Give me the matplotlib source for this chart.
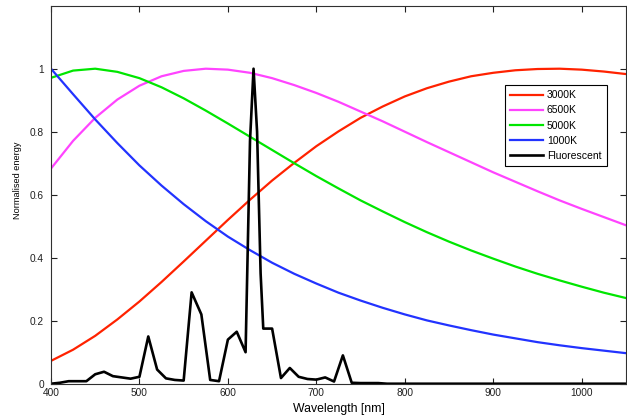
import matplotlib
matplotlib.use('agg')
import matplotlib.pyplot as plt

plt.rcParams['font.family'] = ['Liberation Sans', 'DejaVu Sans']

# wavelength grid for the smooth curves (nm), 25 nm steps
wl = [400, 425, 450, 475, 500, 525, 550, 575, 600, 625, 650, 675, 700, 725,
      750, 775, 800, 825, 850, 875, 900, 925, 950, 975, 1000, 1025, 1050]

# normalised energy
k3000 = [0.0725, 0.108, 0.152, 0.204, 0.261, 0.323, 0.388, 0.454, 0.520, 0.584, 0.645, 0.701,
         0.754, 0.801, 0.844, 0.880, 0.912, 0.938, 0.959, 0.976, 0.987, 0.995, 0.999, 1.000,
         0.997, 0.991, 0.983]
k6500 = [0.683, 0.771, 0.844, 0.902, 0.946, 0.976, 0.993, 1.000, 0.997, 0.987, 0.970, 0.948,
         0.923, 0.895, 0.864, 0.833, 0.800, 0.767, 0.735, 0.703, 0.671, 0.641, 0.611, 0.582,
         0.555, 0.529, 0.503]
k5000 = [0.971, 0.994, 1.000, 0.990, 0.970, 0.941, 0.906, 0.867, 0.826, 0.784, 0.742, 0.700,
         0.659, 0.620, 0.582, 0.547, 0.513, 0.481, 0.451, 0.423, 0.397, 0.372, 0.349, 0.328,
         0.308, 0.289, 0.272]
k1000 = [1.000, 0.919, 0.839, 0.764, 0.693, 0.629, 0.570, 0.516, 0.467, 0.424, 0.384, 0.349,
         0.318, 0.289, 0.264, 0.241, 0.220, 0.201, 0.185, 0.170, 0.156, 0.144, 0.132, 0.122,
         0.113, 0.105, 0.097]

# fluorescent lamp spectrum
fl_wl = [400, 410, 420, 430, 440, 450, 460, 470, 480, 490, 500, 510, 520, 530, 540, 550,
         559, 570, 580, 590, 600, 610, 620, 625, 629, 633, 637, 640, 650, 660, 670, 680,
         690, 700, 710, 720, 730, 740, 750, 760, 770, 780, 1050]
fl = [0.0, 0.003, 0.008, 0.008, 0.008, 0.030, 0.038, 0.024, 0.020, 0.016, 0.022, 0.150, 0.045,
      0.017, 0.012, 0.010, 0.290, 0.220, 0.012, 0.008, 0.140, 0.165, 0.100, 0.770, 1.000,
      0.800, 0.350, 0.175, 0.175, 0.018, 0.050, 0.022, 0.015, 0.013, 0.020, 0.007, 0.090,
      0.003, 0.002, 0.002, 0.002, 0.0, 0.0]

fig = plt.figure(figsize=(6.27, 4.19), dpi=100)
ax = fig.add_axes([0.0813, 0.0842, 0.917, 0.9022])

lw = 1.6
ax.plot(wl, k3000, color='#ff2200', lw=lw, label='3000K')
ax.plot(wl, k6500, color='#ff44ff', lw=lw, label='6500K')
ax.plot(wl, k5000, color='#00e600', lw=lw, label='5000K')
ax.plot(wl, k1000, color='#2233ff', lw=lw, label='1000K')
ax.plot(fl_wl, fl, color='black', lw=1.9, label='Fluorescent')

ax.set_xlim(400, 1050)
ax.set_ylim(0, 1.2)
ax.set_xticks([400, 500, 600, 700, 800, 900, 1000])
ax.set_yticks([0, 0.2, 0.4, 0.6, 0.8, 1])
ax.set_yticklabels(['0', '0.2', '0.4', '0.6', '0.8', '1'])
ax.tick_params(direction='in', length=4, width=0.8, top=True, right=True,
               labelsize=7.3, pad=3, colors='#202020')
ax.tick_params(axis='y', pad=5)
for s in ax.spines.values():
    s.set_linewidth(0.8)
    s.set_color('#303030')

ax.set_xlabel('Wavelength [nm]', fontsize=8.8, labelpad=4)
ax.set_ylabel('Normalised energy', fontsize=6.6)
ax.yaxis.set_label_coords(-0.0504, 0.539)

leg = ax.legend(loc='upper left', bbox_to_anchor=(0.79, 0.79), borderaxespad=0,
                fontsize=7.5, handlelength=3.1, handletextpad=0.4, labelspacing=0.5,
                fancybox=False, framealpha=1, borderpad=0.5)
leg.get_frame().set_edgecolor('black')
leg.get_frame().set_linewidth(0.8)

fig.savefig('out.png', dpi=100)
